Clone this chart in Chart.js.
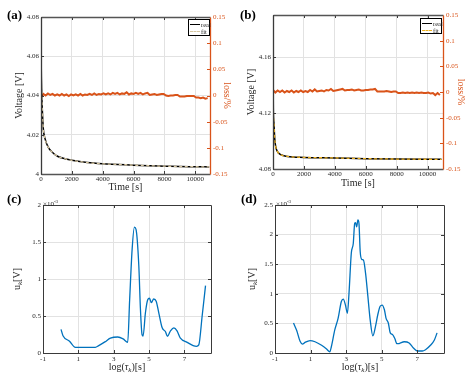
<!DOCTYPE html>
<html><head><meta charset="utf-8">
<script src="https://cdn.jsdelivr.net/npm/chart.js@4.4.1/dist/chart.umd.min.js"></script>
<style>
html,body{margin:0;padding:0;background:#fff;}
#wrap{position:relative;width:467px;height:379px;overflow:hidden;font-family:"Liberation Serif","Times New Roman",serif;color:#262626;}
canvas{position:absolute;left:0;top:0;width:467px;height:379px;}
.plab{position:absolute;font-weight:bold;font-size:13px;color:#000;line-height:13px;}
.rt{position:absolute;white-space:nowrap;font-size:10px;line-height:10px;transform:translate(-50%,-50%) rotate(-90deg);}
.ht{position:absolute;white-space:nowrap;font-size:10px;line-height:10px;transform:translate(-50%,-50%);}
.ex{position:absolute;white-space:nowrap;font-size:7px;line-height:7px;}
.ex sup{font-size:5px;vertical-align:3px;}
sub{font-size:7px;vertical-align:-2px;font-style:italic;}
.leg{position:absolute;background:#fff;border:1px solid #000;font-size:6.5px;line-height:7px;box-sizing:border-box;}
.leg div{position:relative;height:7px;}
.leg span.s{position:absolute;left:1px;top:3px;width:10px;height:0;}
.leg span.t{position:absolute;left:12px;top:0;}
</style></head><body>
<div id="wrap">
<canvas id="ca" width="467" height="379"></canvas>
<canvas id="cb" width="467" height="379"></canvas>
<canvas id="cc" width="467" height="379"></canvas>
<canvas id="cd" width="467" height="379"></canvas>
<div class="plab" style="left:7px;top:8px">(a)</div>
<div class="plab" style="left:240px;top:8px">(b)</div>
<div class="plab" style="left:7px;top:192px">(c)</div>
<div class="plab" style="left:241px;top:192px">(d)</div>
<div class="leg" style="left:188px;top:19px;width:22px;height:17px;padding-top:1px">
  <div><span class="s" style="border-top:1.2px solid #000"></span><span class="t">real</span></div>
  <div><span class="s" style="border-top:1.2px dashed #d6c6a0"></span><span class="t">fit</span></div>
</div>
<div class="leg" style="left:420px;top:18px;width:22px;height:16px;padding-top:1px">
  <div><span class="s" style="border-top:1.2px solid #000"></span><span class="t">real</span></div>
  <div><span class="s" style="border-top:1.2px dashed #EDB120"></span><span class="t">fit</span></div>
</div>
<div class="ex" style="left:43px;top:198px">&times;10<sup>-3</sup></div>
<div class="ex" style="left:276px;top:198px">&times;10<sup>-3</sup></div>
<div class="rt" style="left:18px;top:279px">u<sub>k</sub>[V]</div>
<div class="ht" style="left:127px;top:368px">log(<i>&tau;</i><sub>k</sub>)[s]</div>
<div class="rt" style="left:253px;top:279px">u<sub>k</sub>[V]</div>
<div class="ht" style="left:360px;top:368px">log(<i>&tau;</i><sub>k</sub>)[s]</div>
</div>
<script>
// ---- tick labels ----
const timeTicks=[0,2000,4000,6000,8000,10000];
const vTicksA=[4,4.02,4.04,4.06,4.08];
const vTicksB=[4.08,4.12,4.16];
const lossTicks=[-0.15,-0.1,-0.05,0,0.05,0.1,0.15];
const tauTicks=[-1,1,3,5,7];
const uTicksC=[0,0.5,1,1.5,2];
const uTicksD=[0,0.5,1,1.5,2,2.5];

// ---- panel (a) voltage ----
const vTimesA=[0,15,40,90,150,260,470,800,1100,1550,2000,3000,4000,5000,6000,7000,8000,9000,10000,10900];
const vRealA=[4.073,4.055,4.043,4.032,4.023,4.018,4.0136,4.0106,4.0089,4.0078,4.0070,4.0058,4.0052,4.0049,4.0045,4.0042,4.0040,4.0038,4.0037,4.0036];
const vFitA=[4.073,4.055,4.043,4.032,4.023,4.018,4.0136,4.0106,4.0089,4.0078,4.0070,4.0058,4.0052,4.0049,4.0045,4.0042,4.0040,4.0038,4.0037,4.0036];

// ---- panel (a) loss ----
const lossTimes=[0,150,300,450,600,750,900,1050,1200,1350,1500,1650,1800,1950,2100,2250,2400,2550,2700,2850,3000,3150,3300,3450,3600,3750,3900,4050,4200,4350,4500,4650,4800,4950,5100,5250,5400,5550,5700,5850,6000,6150,6300,6450,6600,6750,6900,7050,7200,7350,7500,7650,7800,7950,8100,8250,8400,8550,8700,8850,9000,9150,9300,9450,9600,9750,9900,10050,10200,10350,10500,10650,10800];
const lossA=[-0.004,0.003,0.000,0.004,0.001,0.003,0.000,0.002,0.000,0.003,0.000,0.002,-0.001,0.002,0.000,0.002,0.000,0.003,0.000,0.002,0.001,0.003,0.001,0.004,0.001,0.003,0.002,0.004,0.002,0.004,0.002,0.005,0.003,0.005,0.002,0.004,0.003,0.006,0.002,0.004,0.003,0.005,0.003,0.005,0.002,0.004,0.005,0.001,0.002,0.003,0.001,0.002,0.003,0.003,0.000,-0.001,0.000,0.000,0.001,0.001,-0.002,-0.002,-0.002,-0.001,-0.001,-0.001,-0.001,-0.004,-0.004,-0.005,-0.004,-0.006,-0.005];

// ---- panel (b) voltage ----
const vTimesB=[0,10,20,65,110,175,280,500,935,2000,4000,6000,8000,10900];
const vRealB=[4.187,4.14,4.124,4.112,4.102,4.096,4.0926,4.0902,4.089,4.0883,4.0879,4.0874,4.0871,4.0869];
const vFitB=[4.187,4.14,4.124,4.112,4.102,4.096,4.0926,4.0902,4.089,4.0883,4.0879,4.0874,4.0871,4.0869];

// ---- panel (b) loss ----
const lossB=[0.004,-0.001,0.003,0.000,0.003,-0.001,0.002,0.000,0.003,-0.001,0.002,0.000,0.003,0.000,0.002,0.000,0.004,0.001,0.005,0.001,0.002,0.003,0.001,0.004,0.003,0.006,0.002,0.003,0.004,0.005,0.006,0.003,0.004,0.004,0.005,0.003,0.004,0.005,0.003,0.003,0.004,0.004,0.005,0.005,0.006,0.001,0.001,0.001,0.001,0.002,0.001,0.000,0.001,0.001,-0.002,-0.002,-0.001,-0.002,-0.001,-0.002,-0.001,-0.002,-0.001,-0.002,-0.001,-0.002,-0.002,-0.001,-0.003,-0.002,-0.006,-0.002,-0.006];

// ---- panel (c) ----
const tauC=[0.02,0.13,0.5,0.83,1.3,1.96,2.15,2.5,2.81,3.23,3.53,3.79,3.9,4.04,4.17,4.26,4.42,4.51,4.6,4.66,4.79,4.92,5.02,5.13,5.26,5.4,5.55,5.74,5.92,6.04,6.21,6.4,6.58,6.77,7.15,7.49,7.68,7.81,8.0,8.19];
const uC=[0.32,0.234,0.16,0.077,0.075,0.077,0.10,0.15,0.2,0.216,0.19,0.144,0.72,1.4,1.70,1.67,1.17,0.59,0.25,0.23,0.54,0.72,0.74,0.68,0.73,0.70,0.54,0.34,0.29,0.225,0.30,0.34,0.30,0.2,0.144,0.10,0.09,0.11,0.5,0.91];

// ---- panel (d) ----
const tauD=[0.04,0.22,0.41,0.54,0.69,0.97,1.25,1.62,1.9,2.08,2.17,2.36,2.55,2.73,2.84,2.96,3.07,3.16,3.29,3.4,3.48,3.53,3.59,3.66,3.72,3.79,3.88,3.97,4.09,4.22,4.35,4.5,4.65,4.78,4.91,5.02,5.15,5.24,5.37,5.48,5.61,5.74,5.85,5.98,6.26,6.54,6.78,7.0,7.28,7.46,7.74,7.96,8.11];
const uD=[0.506,0.38,0.197,0.15,0.18,0.21,0.19,0.13,0.067,0.02,0.11,0.39,0.59,0.87,0.91,0.81,0.67,1.01,1.69,1.85,2.19,2.2,2.13,2.25,2.19,1.71,1.58,1.57,1.35,0.96,0.56,0.29,0.45,0.65,0.79,0.81,0.73,0.59,0.506,0.34,0.31,0.24,0.157,0.16,0.19,0.17,0.084,0.034,0.034,0.056,0.13,0.22,0.34];

// ---- styling ----
const ORANGE='#D95319', BLUE='#0072BD', GRID='#e2e2e2', TXT='#262626', BOX='#3a3a3a';
const FF='"Liberation Serif","Times New Roman",serif';
const tickFont={family:FF,size:7};
const titleFont={family:FF,size:10};
const pts=(xs,ys)=>xs.map((x,i)=>({x:x,y:ys[i]}));
const fixW=w=>s=>{s.width=w;};
const fixH=h=>s=>{s.height=h;};
const setTicks=arr=>s=>{s.ticks=arr.map(v=>({value:v}));};
const lbl=v=>String(v);

const framePlugin={
  id:'frame',
  afterDatasetsDraw(chart,args,o){
    const {ctx,chartArea:a,scales}=chart;
    const tl=3;
    ctx.save();
    ctx.lineWidth=1;
    const L=(x1,y1,x2,y2,c)=>{ctx.strokeStyle=c;ctx.beginPath();ctx.moveTo(x1,y1);ctx.lineTo(x2,y2);ctx.stroke();};
    const x=scales.x, y=scales.y, y1=scales.y1;
    x.ticks.forEach(t=>{const p=Math.round(x.getPixelForValue(t.value))+0.5;L(p,a.bottom,p,a.bottom-tl,BOX);L(p,a.top,p,a.top+tl,BOX);});
    y.ticks.forEach(t=>{const p=Math.round(y.getPixelForValue(t.value))+0.5;L(a.left,p,a.left+tl,p,BOX);if(!y1)L(a.right,p,a.right-tl,p,BOX);});
    if(y1){y1.ticks.forEach(t=>{const p=Math.round(y1.getPixelForValue(t.value))+0.5;L(a.right,p,a.right-tl,p,ORANGE);});}
    const l=Math.round(a.left)+0.5,r=Math.round(a.right)+0.5,tp=Math.round(a.top)+0.5,b=Math.round(a.bottom)+0.5;
    ctx.lineWidth=o.w||1;
    L(l,tp,r,tp,o.topColor||BOX);
    L(l,b,r,b,o.topColor||BOX);
    L(l,tp,l,b,o.leftColor||BOX);
    L(r,tp,r,b,y1?ORANGE:BOX);
    ctx.restore();
  }
};
Chart.register(framePlugin);

function xScale(min,max,ticks,h,pad,title){
  const s={type:'linear',min:min,max:max,afterBuildTicks:setTicks(ticks),afterFit:fixH(h),
    grid:{color:GRID,drawTicks:false},border:{display:false},
    ticks:{font:tickFont,color:TXT,padding:pad,maxRotation:0,autoSkip:false,callback:lbl}};
  if(title) s.title={display:true,text:title,font:titleFont,color:TXT,padding:0};
  return s;
}
function yScale(min,max,ticks,w,title,pos,color,grid){
  const s={type:'linear',position:pos,min:min,max:max,afterBuildTicks:setTicks(ticks),afterFit:fixW(w),
    grid:{display:grid,color:GRID,drawTicks:false},border:{display:false},
    ticks:{font:tickFont,color:color,padding:pos==='left'?2:3,autoSkip:false,callback:lbl}};
  if(title) s.title={display:true,text:title,font:titleFont,color:color,padding:0};
  return s;
}
const base={responsive:false,devicePixelRatio:1,animation:false,events:[],
  plugins:{legend:{display:false},tooltip:{enabled:false}}};

function voltChart(id,pad,xmax,yT,ymin,ymax,wL,wR,hX,tm,real,fit,loss,fitColor,wLine){
  new Chart(document.getElementById(id),{
    type:'line',
    data:{datasets:[
      {data:pts(tm,fit),yAxisID:'y',borderColor:fitColor,borderWidth:1.3,borderDash:[3,2.5],pointRadius:0,cubicInterpolationMode:'monotone'},
      {data:pts(tm,real),yAxisID:'y',borderColor:'#000',borderWidth:1.5,pointRadius:0,cubicInterpolationMode:'monotone'},
      {data:pts(lossTimes,loss),yAxisID:'y1',borderColor:ORANGE,borderWidth:2,pointRadius:0,tension:0}
    ]},
    options:Object.assign({},base,{
      layout:{padding:pad},
      plugins:Object.assign({},base.plugins,{frame:{topColor:'#555',w:1.3}}),
      scales:{
        x:xScale(0,xmax,timeTicks,hX,1,'Time [s]'),
        y:yScale(ymin,ymax,yT,wL,'Voltage [V]','left',TXT,true),
        y1:yScale(-0.15,0.15,lossTicks,wR,'loss/%','right',ORANGE,false)
      }
    })
  });
}
voltChart('ca',{left:13,top:17,right:234,bottom:186},10950,vTicksA,4,4.08,28,23,19,vTimesA,vRealA,vFitA,lossA,'#d6c6a0');
voltChart('cb',{left:245,top:15,right:0,bottom:190},11000,vTicksB,4.08,4.19,28,24,20,vTimesB,vRealB,vFitB,lossB,'#EDB120');

function ukChart(id,pad,wL,tau,u,ymax,yT){
  new Chart(document.getElementById(id),{
    type:'line',
    data:{datasets:[{data:pts(tau,u),borderColor:BLUE,borderWidth:1.3,pointRadius:0,cubicInterpolationMode:'monotone'}]},
    options:Object.assign({},base,{
      layout:{padding:pad},
      plugins:Object.assign({},base.plugins,{frame:{}}),
      scales:{
        x:xScale(-1,8.5,tauTicks,12,2,null),
        y:yScale(0,ymax,yT,wL,null,'left',TXT,true)
      }
    })
  });
}
ukChart('cc',{left:0,top:205,right:256,bottom:14},43,tauC,uC,2,uTicksC);
ukChart('cd',{left:245,top:205,right:23,bottom:14},30,tauD,uD,2.5,uTicksD);
</script>
</body></html>
